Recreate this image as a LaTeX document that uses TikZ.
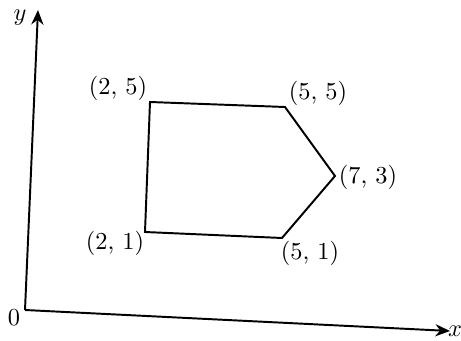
\documentclass[tikz,border=0pt]{standalone}
\usepackage{tikz}
\usetikzlibrary{arrows.meta, positioning}

\begin{document}
\begin{tikzpicture}[x=0.41pt, y=-0.41pt,
    ax/.style={line width=0.8pt, -{Stealth[length=6pt,width=5pt]}},
    poly/.style={line width=0.8pt, line join=miter},
    lb/.style={inner sep=1pt, font=\normalsize}
  ]
  \useasboundingbox (0,0) rectangle (461,341);
  % axes
  \coordinate (O)  at (25,310);
  \coordinate (xe) at (450,331);
  \coordinate (ye) at (38,10);
  \draw[ax] (O) -- (xe);
  \draw[ax] (O) -- (ye);
  \node[lb] (xl) at (455,331) {$x$};
  \node[lb] (yl) at (20,18) {$y$};
  \node[lb] (zero) at (14,318) {0};
  % pentagon
  \coordinate (A) at (150,102);
  \coordinate (B) at (285,107);
  \coordinate (C) at (335,176);
  \coordinate (D) at (282,238);
  \coordinate (E) at (145,232);
  \draw[poly] (A) -- (B) -- (C) -- (D) -- (E) -- cycle;
  \node[lb] (lA) at (118,88)  {(2, 5)};
  \node[lb] (lB) at (318,93)  {(5, 5)};
  \node[lb] (lC) at (368,177) {(7, 3)};
  \node[lb] (lD) at (310,253) {(5, 1)};
  \node[lb] (lE) at (115,243) {(2, 1)};
\end{tikzpicture}
\end{document}
